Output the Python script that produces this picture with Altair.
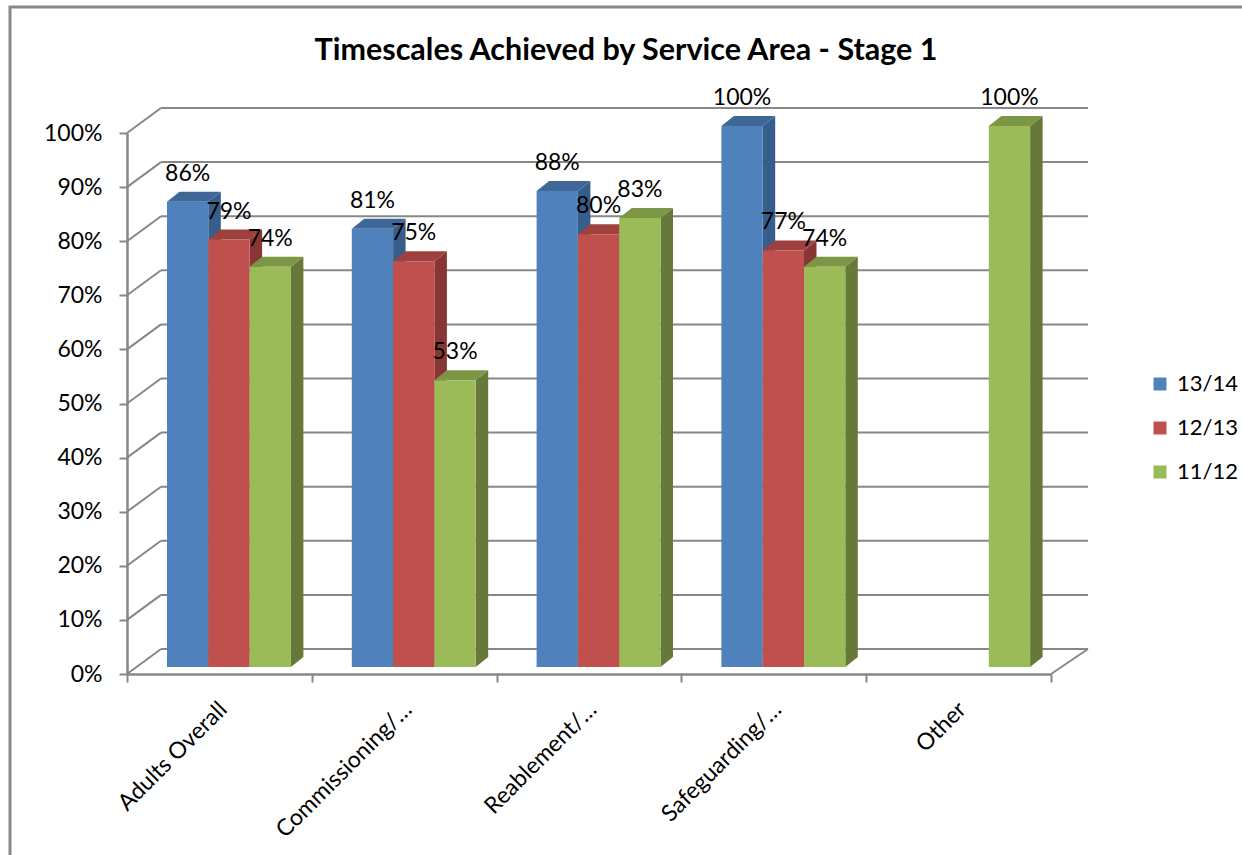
import altair as alt
import pandas as pd

# ---- data ----
categories = ["Adults Overall", "Commissioning/…", "Reablement/…", "Safeguarding/…", "Other"]
series = ["13/14", "12/13", "11/12"]
vals_1314 = [0.86, 0.81, 0.88, 1.00, None]
vals_1213 = [0.79, 0.75, 0.80, 0.77, None]
vals_1112 = [0.74, 0.53, 0.83, 0.74, 1.00]
y_ticks = [0.0, 0.1, 0.2, 0.3, 0.4, 0.5, 0.6, 0.7, 0.8, 0.9, 1.0]

front_colors = ["#4F81BD", "#C0504D", "#9BBB59"]
top_colors = ["#3E6797", "#9E403D", "#7B9745"]
side_colors = ["#375D8A", "#873634", "#66783A"]
grid_color = "#878787"
FONT = "Lato"

# ---- layout (pixels) ----
W_PX, H_PX = 924, 541
CAT_PX = W_PX / len(categories)
BAR = 41.3 / CAT_PX          # bar width in category units
LEFT = 40.0 / CAT_PX         # gap before first bar in category units
DX = 12.5 / CAT_PX           # bar depth (x) in category units
DY = 10.0 / H_PX             # bar depth (y) in value units
SHIFT = -7                   # bars sit a little behind the front axis

all_vals = [vals_1314, vals_1213, vals_1112]

front_rows, top_rows, side_rows, label_rows = [], [], [], []
for j, s in enumerate(series):
    for i, v in enumerate(all_vals[j]):
        if v is None:
            continue
        x0 = i + LEFT + j * BAR
        x1 = x0 + BAR
        bid = f"{s}-{i}"
        front_rows.append({"series": s, "x0": x0, "x1": x1, "v": v, "base": 0.0})
        label_rows.append({"series": s, "xc": (x0 + x1) / 2, "v": v})
        for xx, lo, hi in [(x0, v, v), (x0 + DX, v, v + DY), (x1, v, v + DY), (x1 + DX, v + DY, v + DY)]:
            top_rows.append({"bar": bid, "series": s, "x": xx, "lo": lo, "hi": hi})
        for xx, lo, hi in [(x1, 0.0, v), (x1 + DX, DY, v + DY)]:
            side_rows.append({"bar": bid, "series": s, "x": xx, "lo": lo, "hi": hi})

front_df = pd.DataFrame(front_rows)
top_df = pd.DataFrame(top_rows)
side_df = pd.DataFrame(side_rows)
label_df = pd.DataFrame(label_rows)
grid_df = pd.DataFrame({"v": y_ticks})
cat_df = pd.DataFrame({"cat": categories, "xc": [i + 0.5 for i in range(len(categories))], "v": 0.0})
one_df = pd.DataFrame({"v": [0.0]})

xs = alt.Scale(domain=[0, len(categories)], nice=False, zero=False)
ys = alt.Scale(domain=[0, 1], nice=False)

x_axis = alt.Axis(values=list(range(len(categories) + 1)), labels=False, title=None, grid=False,
                  tickSize=8, tickColor=grid_color, tickWidth=2, domainColor=grid_color, domainWidth=2.5)
y_axis = alt.Axis(values=y_ticks, format=".0%", title=None, grid=False, tickSize=8, tickColor=grid_color,
                  tickWidth=2, domainColor=grid_color, domainWidth=2.5, labelFont=FONT, labelFontSize=23,
                  labelColor="black", labelPadding=17)


def X(f):
    return alt.X(f, scale=xs, axis=x_axis)


def Y(f):
    return alt.Y(f, scale=ys, axis=y_axis)


# back wall gridlines
grid_h = alt.Chart(grid_df).mark_rule(color=grid_color, strokeWidth=2, xOffset=34, x2Offset=37, yOffset=-25).encode(
    x=alt.X(datum=0, scale=xs, axis=x_axis),
    x2=alt.datum(len(categories)),
    y=Y("v:Q"),
)
grid_d = alt.Chart(grid_df).mark_rule(color=grid_color, strokeWidth=2, x2Offset=34, y2Offset=-25).encode(
    x=alt.X(datum=0, scale=xs, axis=x_axis),
    x2=alt.datum(0),
    y=Y("v:Q"),
    y2="v:Q",
)
floor_r = alt.Chart(one_df).mark_rule(color=grid_color, strokeWidth=2, x2Offset=37, y2Offset=-25).encode(
    x=alt.X(datum=len(categories), scale=xs, axis=x_axis),
    x2=alt.datum(len(categories)),
    y=Y("v:Q"),
    y2="v:Q",
)

sides = alt.Chart(side_df).mark_area(yOffset=SHIFT, y2Offset=SHIFT, opacity=1).encode(
    x=X("x:Q"), y=Y("lo:Q"), y2="hi:Q", detail="bar:N",
    color=alt.Color("series:N", scale=alt.Scale(domain=series, range=side_colors), legend=None),
)
tops = alt.Chart(top_df).mark_area(yOffset=SHIFT, y2Offset=SHIFT, opacity=1).encode(
    x=X("x:Q"), y=Y("lo:Q"), y2="hi:Q", detail="bar:N",
    color=alt.Color("series:N", scale=alt.Scale(domain=series, range=top_colors), legend=None),
)
fronts = alt.Chart(front_df).mark_rect(yOffset=SHIFT, y2Offset=SHIFT).encode(
    x=X("x0:Q"), x2="x1:Q", y=Y("base:Q"), y2="v:Q",
    color=alt.Color("series:N", scale=alt.Scale(domain=series, range=front_colors),
                    legend=alt.Legend(orient="none", legendX=1022, legendY=240, title=None,
                                      symbolType="square", symbolSize=169, symbolStrokeWidth=0,
                                      labelFont=FONT, labelFontSize=22, labelColor="black",
                                      rowPadding=22, labelOffset=6, padding=0)),
)
labels = alt.Chart(label_df).mark_text(font=FONT, fontSize=23, color="black", baseline="alphabetic",
                                       align="center", yOffset=SHIFT - 21).encode(
    x=X("xc:Q"), y=Y("v:Q"), text=alt.Text("v:Q", format=".0%"),
)
cat_labels = alt.Chart(cat_df).mark_text(font=FONT, fontSize=23, color="black", angle=315, align="right",
                                         baseline="middle", xOffset=4, yOffset=32).encode(
    x=X("xc:Q"), y=Y("v:Q"), text="cat:N",
)
title = alt.Chart(one_df).mark_text(font=FONT, fontSize=30.5, fontWeight="bold", color="black",
                                    align="center", baseline="alphabetic",
                                    text="Timescales Achieved by Service Area - Stage 1").encode(
    x=alt.value(626 - 127), y=alt.value(60 - 133),
)
frame = alt.Chart(one_df).mark_rect(fill="transparent", stroke="#888888", strokeWidth=3).encode(
    x=alt.value(10 - 127), x2=alt.value(1300), y=alt.value(7 - 133), y2=alt.value(900),
)

chart = alt.layer(
    frame, grid_h, grid_d, floor_r, sides, tops, fronts, labels, cat_labels, title
).resolve_scale(color="independent").properties(
    width=W_PX, height=H_PX,
    autosize=alt.AutoSizeParams(type="none"),
    padding={"left": 127, "top": 133, "right": 1242 - 127 - W_PX, "bottom": 855 - 133 - H_PX},
    background="white",
).configure_view(stroke=None)

chart.save("out.html", embed_options={"renderer": "svg", "actions": False})
